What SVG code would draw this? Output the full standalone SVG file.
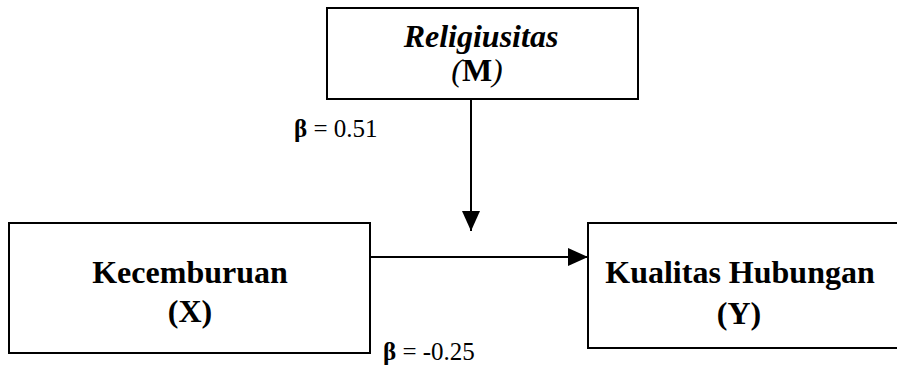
<svg xmlns="http://www.w3.org/2000/svg" width="897" height="369" viewBox="0 0 897 369">
<style>
.box{fill:#fff;stroke:#000;stroke-width:2}
.ln{stroke:#000;stroke-width:2;fill:none}
</style>
<defs>
<marker id="ah" viewBox="0 0 20 18" refX="20" refY="9" markerWidth="20" markerHeight="18" markerUnits="userSpaceOnUse" orient="auto">
<path d="M0,0 L20,9 L0,18 Z" fill="#000"/>
</marker>
</defs>
<rect width="897" height="369" fill="#fff"/>
<g id="connectors">
<line class="ln" x1="471" y1="99" x2="471" y2="231" marker-end="url(#ah)"/>
<line class="ln" x1="371" y1="257" x2="588" y2="257" marker-end="url(#ah)"/>
</g>
<g font-family="Liberation Serif, Times New Roman, serif" font-weight="bold" font-size="32" text-anchor="middle" fill="#000">
<g id="node-m">
<rect class="box" x="327" y="8" width="311" height="91"/>
<text x="481" y="47" font-style="italic">Religiusitas</text>
<text x="477" y="81"><tspan font-style="italic" font-weight="normal">(</tspan>M<tspan font-style="italic" font-weight="normal">)</tspan></text>
</g>
<g id="node-x">
<rect class="box" x="9" y="223" width="361" height="130"/>
<text x="190" y="283">Kecemburuan</text>
<text x="190" y="322">(X)</text>
</g>
<g id="node-y">
<rect class="box" x="588" y="223" width="320" height="125"/>
<text x="740" y="283">Kualitas Hubungan</text>
<text x="739" y="324">(Y)</text>
</g>
</g>
<g id="labels" font-family="Liberation Serif, Times New Roman, serif" font-size="25" fill="#000">
<text x="294" y="137"><tspan font-weight="bold">β</tspan> = 0.51</text>
<text x="383" y="360"><tspan font-weight="bold">β</tspan> = -0.25</text>
</g>
</svg>
